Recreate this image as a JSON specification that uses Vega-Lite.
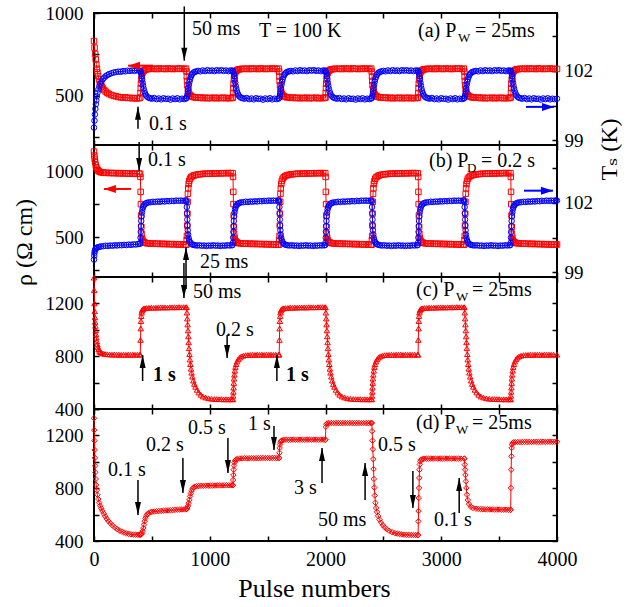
{
"$schema": "https://vega.github.io/schema/vega-lite/v6.json",
"padding": {"left": 11, "top": 3, "right": 5, "bottom": 5},
"background": "white",
"bounds": "flush",
"spacing": 0,
"config": {
 "font": "'Liberation Serif', 'DejaVu Serif', serif",
 "text": {"font": "'Liberation Serif', 'DejaVu Serif', serif"},
 "view": {"stroke": "black", "strokeWidth": 2},
 "axis": {"domain": false, "grid": false, "tickColor": "black", "tickWidth": 1.5, "tickSize": -5, "labelColor": "black", "labelFont": "'Liberation Serif', 'DejaVu Serif', serif", "labelFontSize": 19, "titleColor": "black", "titleFont": "'Liberation Serif', 'DejaVu Serif', serif", "titleFontWeight": "normal", "labelPadding": 16, "labelOverlap": false, "labelFlush": false}
},
"datasets": {
 "txt": [
  {"p":"a","x":847,"y":906,"t":"50 ms"},
  {"p":"a","x":1425,"y":888,"t":"T = 100 K"},
  {"p":"a","x":2799,"y":888,"t":"(a) P"},
  {"p":"a","x":3292,"y":888,"t":"= 25ms"},
  {"p":"a","x":475,"y":328,"t":"0.1 s"},
  {"p":"b","x":467,"y":1086,"t":"0.1 s"},
  {"p":"b","x":916,"y":314,"t":"25 ms"},
  {"p":"b","x":2894,"y":1079,"t":"(b) P"},
  {"p":"b","x":3344,"y":1079,"t":"= 0.2 s"},
  {"p":"c","x":855,"y":1283,"t":"50 ms"},
  {"p":"c","x":1054,"y":998,"t":"0.2 s"},
  {"p":"c","x":2782,"y":1302,"t":"(c) P"},
  {"p":"c","x":3266,"y":1302,"t":"= 25ms"},
  {"p":"d","x":121,"y":938,"t":"0.1 s"},
  {"p":"d","x":449,"y":1127,"t":"0.2 s"},
  {"p":"d","x":812,"y":1256,"t":"0.5 s"},
  {"p":"d","x":1330,"y":1286,"t":"1 s"},
  {"p":"d","x":1728,"y":801,"t":"3 s"},
  {"p":"d","x":1935,"y":559,"t":"50 ms"},
  {"p":"d","x":2454,"y":1127,"t":"0.5 s"},
  {"p":"d","x":2937,"y":559,"t":"0.1 s"},
  {"p":"d","x":2782,"y":1294,"t":"(d) P"},
  {"p":"d","x":3266,"y":1294,"t":"= 25ms"}
 ],
 "sub": [
  {"p":"a","x":3145,"y":888,"t":"W"},
  {"p":"b","x":3222,"y":1079,"t":"D"},
  {"p":"c","x":3127,"y":1302,"t":"W"},
  {"p":"d","x":3127,"y":1294,"t":"W"}
 ],
 "bold": [
  {"p":"c","x":510,"y":658,"t":"1 s"},
  {"p":"c","x":1659,"y":658,"t":"1 s"}
 ],
 "arr": [
  {"p":"a","x":780,"from":1040,"to":711},
  {"p":"a","x":380,"from":298,"to":432},
  {"p":"b","x":390,"from":1223,"to":1003},
  {"p":"b","x":795,"from":109,"to":427},
  {"p":"c","x":777,"from":1506,"to":1241},
  {"p":"c","x":1150,"from":961,"to":786},
  {"p":"c","x":420,"from":612,"to":809},
  {"p":"c","x":1580,"from":612,"to":809},
  {"p":"d","x":380,"from":862,"to":597},
  {"p":"d","x":768,"from":1029,"to":764},
  {"p":"d","x":1157,"from":1180,"to":915},
  {"p":"d","x":1555,"from":1271,"to":1089},
  {"p":"d","x":1970,"from":839,"to":1105},
  {"p":"d","x":2342,"from":711,"to":991},
  {"p":"d","x":2755,"from":930,"to":650},
  {"p":"d","x":3155,"from":612,"to":877}
 ],
 "carr": [
  {"p":"a","s":"rho","y":681,"from":510,"to":294},
  {"p":"a","s":"T","y":431,"from":3732,"to":3974},
  {"p":"b","s":"rho","y":867,"from":320,"to":86},
  {"p":"b","s":"T","y":854,"from":3715,"to":3965}
 ]
},
"vconcat": [
 {
  "width": 463, "height": 132,
  "resolve": {"scale": {"y": "independent"}, "axis": {"x": "independent", "y": "independent"}},
  "layer": [
   {"data": {"values": "x,y\n0,830\n5,790\n10,752\n15,718\n20,688\n25,662\n30,640\n36,618\n43,598\n50,582\n58,567\n67,555\n77,543\n88,533\n100,524\n115,516\n130,509\n150,503\n170,498\n190,495\n210,491\n230,489\n250,487\n270,489\n290,485\n310,486\n330,483\n350,485\n370,482\n390,484\n400,488\n402,515\n404,545\n406,572\n409,598\n413,620\n418,636\n425,646\n433,652\n442,656\n452,659\n465,660\n480,662\n500,661\n520,663\n540,660\n560,664\n580,661\n600,663\n620,660\n640,664\n660,662\n680,660\n700,663\n720,661\n740,664\n760,662\n780,660\n795,663\n800,645\n802,615\n804,588\n807,562\n811,540\n816,523\n822,511\n830,502\n840,496\n852,492\n866,489\n880,488\n900,486\n920,488\n940,484\n960,487\n980,483\n1000,486\n1020,484\n1040,487\n1060,483\n1080,486\n1100,484\n1120,487\n1140,483\n1160,485\n1180,484\n1195,486\n1200,488\n1202,515\n1204,545\n1206,572\n1209,598\n1213,620\n1218,636\n1225,646\n1233,652\n1242,656\n1252,659\n1265,660\n1280,662\n1300,661\n1320,663\n1340,660\n1360,664\n1380,661\n1400,663\n1420,660\n1440,664\n1460,662\n1480,660\n1500,663\n1520,661\n1540,664\n1560,662\n1580,660\n1595,663\n1600,645\n1602,615\n1604,588\n1607,562\n1611,540\n1616,523\n1622,511\n1630,502\n1640,496\n1652,492\n1666,489\n1680,488\n1700,486\n1720,488\n1740,484\n1760,487\n1780,483\n1800,486\n1820,484\n1840,487\n1860,483\n1880,486\n1900,484\n1920,487\n1940,483\n1960,485\n1980,484\n1995,486\n2000,488\n2002,515\n2004,545\n2006,572\n2009,598\n2013,620\n2018,636\n2025,646\n2033,652\n2042,656\n2052,659\n2065,660\n2080,662\n2100,661\n2120,663\n2140,660\n2160,664\n2180,661\n2200,663\n2220,660\n2240,664\n2260,662\n2280,660\n2300,663\n2320,661\n2340,664\n2360,662\n2380,660\n2395,663\n2400,645\n2402,615\n2404,588\n2407,562\n2411,540\n2416,523\n2422,511\n2430,502\n2440,496\n2452,492\n2466,489\n2480,488\n2500,486\n2520,488\n2540,484\n2560,487\n2580,483\n2600,486\n2620,484\n2640,487\n2660,483\n2680,486\n2700,484\n2720,487\n2740,483\n2760,485\n2780,484\n2795,486\n2800,488\n2802,515\n2804,545\n2806,572\n2809,598\n2813,620\n2818,636\n2825,646\n2833,652\n2842,656\n2852,659\n2865,660\n2880,662\n2900,661\n2920,663\n2940,660\n2960,664\n2980,661\n3000,663\n3020,660\n3040,664\n3060,662\n3080,660\n3100,663\n3120,661\n3140,664\n3160,662\n3180,660\n3195,663\n3200,645\n3202,615\n3204,588\n3207,562\n3211,540\n3216,523\n3222,511\n3230,502\n3240,496\n3252,492\n3266,489\n3280,488\n3300,486\n3320,488\n3340,484\n3360,487\n3380,483\n3400,486\n3420,484\n3440,487\n3460,483\n3480,486\n3500,484\n3520,487\n3540,483\n3560,485\n3580,484\n3595,486\n3600,488\n3602,515\n3604,545\n3606,572\n3609,598\n3613,620\n3618,636\n3625,646\n3633,652\n3642,656\n3652,659\n3665,660\n3680,662\n3700,661\n3720,663\n3740,660\n3760,664\n3780,661\n3800,663\n3820,660\n3840,664\n3860,662\n3880,660\n3900,663\n3920,661\n3940,664\n3960,662\n3980,660\n4000,661", "format": {"type": "csv", "parse": {"x": "number", "y": "number"}}},
    "mark": {"type": "line", "color": "red", "strokeWidth": 1, "point": {"shape": "square", "filled": false, "size": 30, "strokeWidth": 1, "color": "red", "opacity": 1}},
    "encoding": {
     "x": {"field": "x", "type": "quantitative", "scale": {"domain": [0, 4000], "nice": false}, "axis": {"orient": "bottom", "values": [0,500,1000,1500,2000,2500,3000,3500,4000], "labels": false, "title": null}},
     "y": {"field": "y", "type": "quantitative", "scale": {"domain": [200, 1000], "nice": false, "zero": false}, "axis": {"orient": "left", "values": [250,500,750,1000], "format": "d", "labelExpr": "datum.value==500||datum.value==1000 ? datum.label : ''", "title": null}}
    }},
   {"data": {"values": "x,y\n0,99.55\n4,99.85\n8,100.12\n12,100.36\n16,100.56\n20,100.73\n25,100.9\n31,101.06\n38,101.2\n46,101.33\n55,101.45\n65,101.55\n76,101.64\n88,101.71\n100,101.77\n115,101.82\n130,101.86\n150,101.9\n170,101.93\n190,101.95\n210,101.97\n230,101.96\n250,101.99\n270,101.98\n290,102.01\n310,102\n330,102.02\n350,102\n370,102.03\n390,102.01\n400,102\n404,101.96\n408,101.88\n412,101.77\n416,101.64\n420,101.5\n424,101.37\n429,101.24\n435,101.12\n442,101.02\n450,100.94\n460,100.88\n472,100.84\n485,100.82\n500,100.8\n520,100.83\n540,100.78\n560,100.81\n580,100.77\n600,100.82\n620,100.79\n640,100.8\n660,100.76\n680,100.81\n700,100.78\n720,100.82\n740,100.77\n760,100.8\n780,100.78\n795,100.81\n800,100.83\n804,100.9\n808,101\n812,101.12\n816,101.26\n820,101.4\n825,101.53\n830,101.64\n836,101.74\n843,101.82\n851,101.88\n860,101.93\n872,101.96\n885,101.98\n900,102\n920,101.98\n940,102.02\n960,101.99\n980,102.03\n1000,102\n1020,102.02\n1040,101.99\n1060,102.03\n1080,102.01\n1100,102.03\n1120,102\n1140,102.02\n1160,101.99\n1180,102.02\n1195,102.01\n1200,102\n1204,101.96\n1208,101.88\n1212,101.77\n1216,101.64\n1220,101.5\n1224,101.37\n1229,101.24\n1235,101.12\n1242,101.02\n1250,100.94\n1260,100.88\n1272,100.84\n1285,100.82\n1300,100.8\n1320,100.83\n1340,100.78\n1360,100.81\n1380,100.77\n1400,100.82\n1420,100.79\n1440,100.8\n1460,100.76\n1480,100.81\n1500,100.78\n1520,100.82\n1540,100.77\n1560,100.8\n1580,100.78\n1595,100.81\n1600,100.83\n1604,100.9\n1608,101\n1612,101.12\n1616,101.26\n1620,101.4\n1625,101.53\n1630,101.64\n1636,101.74\n1643,101.82\n1651,101.88\n1660,101.93\n1672,101.96\n1685,101.98\n1700,102\n1720,101.98\n1740,102.02\n1760,101.99\n1780,102.03\n1800,102\n1820,102.02\n1840,101.99\n1860,102.03\n1880,102.01\n1900,102.03\n1920,102\n1940,102.02\n1960,101.99\n1980,102.02\n1995,102.01\n2000,102\n2004,101.96\n2008,101.88\n2012,101.77\n2016,101.64\n2020,101.5\n2024,101.37\n2029,101.24\n2035,101.12\n2042,101.02\n2050,100.94\n2060,100.88\n2072,100.84\n2085,100.82\n2100,100.8\n2120,100.83\n2140,100.78\n2160,100.81\n2180,100.77\n2200,100.82\n2220,100.79\n2240,100.8\n2260,100.76\n2280,100.81\n2300,100.78\n2320,100.82\n2340,100.77\n2360,100.8\n2380,100.78\n2395,100.81\n2400,100.83\n2404,100.9\n2408,101\n2412,101.12\n2416,101.26\n2420,101.4\n2425,101.53\n2430,101.64\n2436,101.74\n2443,101.82\n2451,101.88\n2460,101.93\n2472,101.96\n2485,101.98\n2500,102\n2520,101.98\n2540,102.02\n2560,101.99\n2580,102.03\n2600,102\n2620,102.02\n2640,101.99\n2660,102.03\n2680,102.01\n2700,102.03\n2720,102\n2740,102.02\n2760,101.99\n2780,102.02\n2795,102.01\n2800,102\n2804,101.96\n2808,101.88\n2812,101.77\n2816,101.64\n2820,101.5\n2824,101.37\n2829,101.24\n2835,101.12\n2842,101.02\n2850,100.94\n2860,100.88\n2872,100.84\n2885,100.82\n2900,100.8\n2920,100.83\n2940,100.78\n2960,100.81\n2980,100.77\n3000,100.82\n3020,100.79\n3040,100.8\n3060,100.76\n3080,100.81\n3100,100.78\n3120,100.82\n3140,100.77\n3160,100.8\n3180,100.78\n3195,100.81\n3200,100.83\n3204,100.9\n3208,101\n3212,101.12\n3216,101.26\n3220,101.4\n3225,101.53\n3230,101.64\n3236,101.74\n3243,101.82\n3251,101.88\n3260,101.93\n3272,101.96\n3285,101.98\n3300,102\n3320,101.98\n3340,102.02\n3360,101.99\n3380,102.03\n3400,102\n3420,102.02\n3440,101.99\n3460,102.03\n3480,102.01\n3500,102.03\n3520,102\n3540,102.02\n3560,101.99\n3580,102.02\n3595,102.01\n3600,102\n3604,101.96\n3608,101.88\n3612,101.77\n3616,101.64\n3620,101.5\n3624,101.37\n3629,101.24\n3635,101.12\n3642,101.02\n3650,100.94\n3660,100.88\n3672,100.84\n3685,100.82\n3700,100.8\n3720,100.83\n3740,100.78\n3760,100.81\n3780,100.77\n3800,100.82\n3820,100.79\n3840,100.8\n3860,100.76\n3880,100.81\n3900,100.78\n3920,100.82\n3940,100.77\n3960,100.8\n3980,100.78\n4000,100.8", "format": {"type": "csv", "parse": {"x": "number", "y": "number"}}},
    "mark": {"type": "line", "color": "blue", "strokeWidth": 1, "point": {"shape": "circle", "filled": false, "size": 30, "strokeWidth": 1, "color": "blue", "opacity": 1}},
    "encoding": {
     "x": {"field": "x", "type": "quantitative", "scale": {"domain": [0, 4000], "nice": false}, "axis": {"orient": "top", "values": [0,500,1000,1500,2000,2500,3000,3500,4000], "labels": false, "title": null}},
     "y": {"field": "y", "type": "quantitative", "scale": {"domain": [98.8, 104.5], "nice": false, "zero": false}, "axis": {"orient": "right", "values": [99,100.5,102,103.5], "labelExpr": "datum.value==99||datum.value==102 ? datum.label : ''", "labelPadding": 12, "title": null}}
    }},
   {"data": {"name": "txt"}, "transform": [{"filter": "datum.p=='a'"}],
    "mark": {"type": "text", "align": "left", "baseline": "middle", "fontSize": 20, "color": "black"},
    "encoding": {"x": {"field": "x", "type": "quantitative", "scale": {"domain": [0, 4000], "nice": false}, "axis": null}, "y": {"field": "y", "type": "quantitative", "scale": {"domain": [200, 1000], "nice": false, "zero": false}, "axis": null}, "text": {"field": "t"}}},
   {"data": {"name": "sub"}, "transform": [{"filter": "datum.p=='a'"}],
    "mark": {"type": "text", "align": "left", "baseline": "middle", "fontSize": 13, "dy": 7, "color": "black"},
    "encoding": {"x": {"field": "x", "type": "quantitative", "scale": {"domain": [0, 4000], "nice": false}, "axis": null}, "y": {"field": "y", "type": "quantitative", "scale": {"domain": [200, 1000], "nice": false, "zero": false}, "axis": null}, "text": {"field": "t"}}},
   {"data": {"name": "arr"}, "transform": [{"filter": "datum.p=='a'"}],
    "mark": {"type": "rule", "color": "black", "strokeWidth": 1.5},
    "encoding": {"x": {"field": "x", "type": "quantitative", "scale": {"domain": [0, 4000], "nice": false}, "axis": null}, "y": {"field": "from", "type": "quantitative", "scale": {"domain": [200, 1000], "nice": false, "zero": false}, "axis": null}, "y2": {"field": "to"}}},
   {"data": {"name": "arr"}, "transform": [{"filter": "datum.p=='a'"}],
    "mark": {"type": "point", "filled": true, "color": "black", "size": 400, "opacity": 1},
    "encoding": {"x": {"field": "x", "type": "quantitative", "scale": {"domain": [0, 4000], "nice": false}, "axis": null}, "y": {"field": "to", "type": "quantitative", "scale": {"domain": [200, 1000], "nice": false, "zero": false}, "axis": null},
     "shape": {"condition": {"test": "datum.to < datum.from", "value": "M0,0L-0.3,-1.3L0.3,-1.3Z"}, "value": "M0,0L-0.3,1.3L0.3,1.3Z"}}},
   {"data": {"name": "carr"}, "transform": [{"filter": "datum.p=='a'"}],
    "mark": {"type": "rule", "strokeWidth": 2},
    "encoding": {"x": {"field": "from", "type": "quantitative", "scale": {"domain": [0, 4000], "nice": false}, "axis": null}, "x2": {"field": "to"}, "y": {"field": "y", "type": "quantitative", "scale": {"domain": [200, 1000], "nice": false, "zero": false}, "axis": null},
     "color": {"field": "s", "type": "nominal", "scale": {"domain": ["rho", "T"], "range": ["red", "blue"]}, "legend": null}}},
   {"data": {"name": "carr"}, "transform": [{"filter": "datum.p=='a'"}],
    "mark": {"type": "point", "filled": true, "size": 400, "opacity": 1},
    "encoding": {"x": {"field": "to", "type": "quantitative", "scale": {"domain": [0, 4000], "nice": false}, "axis": null}, "y": {"field": "y", "type": "quantitative", "scale": {"domain": [200, 1000], "nice": false, "zero": false}, "axis": null},
     "color": {"field": "s", "type": "nominal", "scale": {"domain": ["rho", "T"], "range": ["red", "blue"]}, "legend": null},
     "shape": {"condition": {"test": "datum.to < datum.from", "value": "M0,0L1.2,-0.4L1.2,0.4Z"}, "value": "M0,0L-1.2,-0.4L-1.2,0.4Z"}}}
  ]
 },
 {
  "width": 463, "height": 132,
  "resolve": {"scale": {"y": "independent"}, "axis": {"x": "independent", "y": "independent"}},
  "layer": [
   {"data": {"values": "x,y\n0,1150\n3,1120\n6,1095\n10,1070\n15,1048\n20,1032\n26,1019\n33,1009\n41,1002\n50,997\n60,993\n75,991\n90,989\n110,990\n130,987\n150,989\n170,986\n190,988\n210,985\n230,987\n250,984\n270,986\n290,983\n310,985\n330,982\n350,984\n370,981\n390,983\n398,982\n401,958\n403,845\n405,752\n407,665\n409,580\n411,528\n414,497\n418,480\n424,470\n432,463\n442,459\n455,456\n470,455\n490,452\n510,454\n530,451\n550,453\n570,450\n590,452\n610,449\n630,451\n650,448\n670,450\n690,447\n710,449\n730,446\n750,448\n770,445\n790,447\n798,444\n801,480\n803,512\n805,590\n807,680\n809,770\n811,830\n814,872\n818,905\n823,928\n830,945\n840,957\n852,965\n866,970\n882,974\n900,977\n920,979\n940,981\n960,983\n980,982\n1000,984\n1020,983\n1040,985\n1060,984\n1080,986\n1100,985\n1120,987\n1140,986\n1160,988\n1180,986\n1198,987\n1201,958\n1203,845\n1205,752\n1207,665\n1209,580\n1211,528\n1214,497\n1218,480\n1224,470\n1232,463\n1242,459\n1255,456\n1270,455\n1290,452\n1310,454\n1330,451\n1350,453\n1370,450\n1390,452\n1410,449\n1430,451\n1450,448\n1470,450\n1490,447\n1510,449\n1530,446\n1550,448\n1570,445\n1590,447\n1598,444\n1601,480\n1603,512\n1605,590\n1607,680\n1609,770\n1611,830\n1614,872\n1618,905\n1623,928\n1630,945\n1640,957\n1652,965\n1666,970\n1682,974\n1700,977\n1720,979\n1740,981\n1760,983\n1780,982\n1800,984\n1820,983\n1840,985\n1860,984\n1880,986\n1900,985\n1920,987\n1940,986\n1960,988\n1980,986\n1998,987\n2001,958\n2003,845\n2005,752\n2007,665\n2009,580\n2011,528\n2014,497\n2018,480\n2024,470\n2032,463\n2042,459\n2055,456\n2070,455\n2090,452\n2110,454\n2130,451\n2150,453\n2170,450\n2190,452\n2210,449\n2230,451\n2250,448\n2270,450\n2290,447\n2310,449\n2330,446\n2350,448\n2370,445\n2390,447\n2398,444\n2401,480\n2403,512\n2405,590\n2407,680\n2409,770\n2411,830\n2414,872\n2418,905\n2423,928\n2430,945\n2440,957\n2452,965\n2466,970\n2482,974\n2500,977\n2520,979\n2540,981\n2560,983\n2580,982\n2600,984\n2620,983\n2640,985\n2660,984\n2680,986\n2700,985\n2720,987\n2740,986\n2760,988\n2780,986\n2798,987\n2801,958\n2803,845\n2805,752\n2807,665\n2809,580\n2811,528\n2814,497\n2818,480\n2824,470\n2832,463\n2842,459\n2855,456\n2870,455\n2890,452\n2910,454\n2930,451\n2950,453\n2970,450\n2990,452\n3010,449\n3030,451\n3050,448\n3070,450\n3090,447\n3110,449\n3130,446\n3150,448\n3170,445\n3190,447\n3198,444\n3201,480\n3203,512\n3205,590\n3207,680\n3209,770\n3211,830\n3214,872\n3218,905\n3223,928\n3230,945\n3240,957\n3252,965\n3266,970\n3282,974\n3300,977\n3320,979\n3340,981\n3360,983\n3380,982\n3400,984\n3420,983\n3440,985\n3460,984\n3480,986\n3500,985\n3520,987\n3540,986\n3560,988\n3580,986\n3598,987\n3601,958\n3603,845\n3605,752\n3607,665\n3609,580\n3611,528\n3614,497\n3618,480\n3624,470\n3632,463\n3642,459\n3655,456\n3670,455\n3690,452\n3710,454\n3730,451\n3750,453\n3770,450\n3790,452\n3810,449\n3830,451\n3850,448\n3870,450\n3890,447\n3910,449\n3930,446\n3950,448\n3970,445\n3990,447\n4000,446", "format": {"type": "csv", "parse": {"x": "number", "y": "number"}}},
    "mark": {"type": "line", "color": "red", "strokeWidth": 1, "point": {"shape": "square", "filled": false, "size": 30, "strokeWidth": 1, "color": "red", "opacity": 1}},
    "encoding": {
     "x": {"field": "x", "type": "quantitative", "scale": {"domain": [0, 4000], "nice": false}, "axis": {"orient": "bottom", "values": [0,500,1000,1500,2000,2500,3000,3500,4000], "labels": false, "title": null}},
     "y": {"field": "y", "type": "quantitative", "scale": {"domain": [200, 1200], "nice": false, "zero": false}, "axis": {"orient": "left", "values": [250,500,750,1000], "format": "d", "labelExpr": "datum.value==500||datum.value==1000 ? datum.label : ''", "title": "ρ (Ω cm)", "titleFontSize": 24, "titleAngle": 270, "titleX": -70, "titleY": 97, "titleAlign": "center", "titleBaseline": "middle"}}
    }},
   {"data": {"values": "x,y\n0,99.55\n2,99.72\n4,99.84\n7,99.93\n11,99.99\n16,100.03\n23,100.06\n32,100.08\n45,100.1\n60,100.12\n80,100.13\n100,100.15\n120,100.14\n140,100.16\n160,100.15\n180,100.17\n200,100.16\n220,100.18\n240,100.17\n260,100.19\n280,100.18\n300,100.2\n320,100.19\n340,100.21\n360,100.2\n380,100.22\n396,100.23\n400,100.28\n402,100.5\n404,100.75\n406,101\n408,101.22\n411,101.42\n414,101.58\n418,101.71\n423,101.81\n429,101.88\n436,101.93\n445,101.97\n456,102\n470,102.02\n490,102.03\n510,102.05\n530,102.04\n550,102.06\n570,102.05\n590,102.07\n610,102.06\n630,102.08\n650,102.07\n670,102.09\n690,102.08\n710,102.1\n730,102.09\n750,102.1\n770,102.09\n790,102.11\n797,102.1\n800,102.05\n802,101.82\n804,101.55\n806,101.28\n808,101.03\n810,100.82\n813,100.64\n817,100.5\n822,100.39\n828,100.31\n836,100.25\n846,100.21\n858,100.19\n872,100.17\n890,100.16\n910,100.17\n930,100.15\n950,100.16\n970,100.14\n990,100.16\n1010,100.15\n1030,100.17\n1050,100.15\n1070,100.16\n1090,100.14\n1110,100.16\n1130,100.15\n1150,100.17\n1170,100.16\n1190,100.17\n1197,100.18\n1200,100.28\n1202,100.5\n1204,100.75\n1206,101\n1208,101.22\n1211,101.42\n1214,101.58\n1218,101.71\n1223,101.81\n1229,101.88\n1236,101.93\n1245,101.97\n1256,102\n1270,102.02\n1290,102.03\n1310,102.05\n1330,102.04\n1350,102.06\n1370,102.05\n1390,102.07\n1410,102.06\n1430,102.08\n1450,102.07\n1470,102.09\n1490,102.08\n1510,102.1\n1530,102.09\n1550,102.1\n1570,102.09\n1590,102.11\n1597,102.1\n1600,102.05\n1602,101.82\n1604,101.55\n1606,101.28\n1608,101.03\n1610,100.82\n1613,100.64\n1617,100.5\n1622,100.39\n1628,100.31\n1636,100.25\n1646,100.21\n1658,100.19\n1672,100.17\n1690,100.16\n1710,100.17\n1730,100.15\n1750,100.16\n1770,100.14\n1790,100.16\n1810,100.15\n1830,100.17\n1850,100.15\n1870,100.16\n1890,100.14\n1910,100.16\n1930,100.15\n1950,100.17\n1970,100.16\n1990,100.17\n1997,100.18\n2000,100.28\n2002,100.5\n2004,100.75\n2006,101\n2008,101.22\n2011,101.42\n2014,101.58\n2018,101.71\n2023,101.81\n2029,101.88\n2036,101.93\n2045,101.97\n2056,102\n2070,102.02\n2090,102.03\n2110,102.05\n2130,102.04\n2150,102.06\n2170,102.05\n2190,102.07\n2210,102.06\n2230,102.08\n2250,102.07\n2270,102.09\n2290,102.08\n2310,102.1\n2330,102.09\n2350,102.1\n2370,102.09\n2390,102.11\n2397,102.1\n2400,102.05\n2402,101.82\n2404,101.55\n2406,101.28\n2408,101.03\n2410,100.82\n2413,100.64\n2417,100.5\n2422,100.39\n2428,100.31\n2436,100.25\n2446,100.21\n2458,100.19\n2472,100.17\n2490,100.16\n2510,100.17\n2530,100.15\n2550,100.16\n2570,100.14\n2590,100.16\n2610,100.15\n2630,100.17\n2650,100.15\n2670,100.16\n2690,100.14\n2710,100.16\n2730,100.15\n2750,100.17\n2770,100.16\n2790,100.17\n2797,100.18\n2800,100.28\n2802,100.5\n2804,100.75\n2806,101\n2808,101.22\n2811,101.42\n2814,101.58\n2818,101.71\n2823,101.81\n2829,101.88\n2836,101.93\n2845,101.97\n2856,102\n2870,102.02\n2890,102.03\n2910,102.05\n2930,102.04\n2950,102.06\n2970,102.05\n2990,102.07\n3010,102.06\n3030,102.08\n3050,102.07\n3070,102.09\n3090,102.08\n3110,102.1\n3130,102.09\n3150,102.1\n3170,102.09\n3190,102.11\n3197,102.1\n3200,102.05\n3202,101.82\n3204,101.55\n3206,101.28\n3208,101.03\n3210,100.82\n3213,100.64\n3217,100.5\n3222,100.39\n3228,100.31\n3236,100.25\n3246,100.21\n3258,100.19\n3272,100.17\n3290,100.16\n3310,100.17\n3330,100.15\n3350,100.16\n3370,100.14\n3390,100.16\n3410,100.15\n3430,100.17\n3450,100.15\n3470,100.16\n3490,100.14\n3510,100.16\n3530,100.15\n3550,100.17\n3570,100.16\n3590,100.17\n3597,100.18\n3600,100.28\n3602,100.5\n3604,100.75\n3606,101\n3608,101.22\n3611,101.42\n3614,101.58\n3618,101.71\n3623,101.81\n3629,101.88\n3636,101.93\n3645,101.97\n3656,102\n3670,102.02\n3690,102.03\n3710,102.05\n3730,102.04\n3750,102.06\n3770,102.05\n3790,102.07\n3810,102.06\n3830,102.08\n3850,102.07\n3870,102.09\n3890,102.08\n3910,102.1\n3930,102.09\n3950,102.1\n3970,102.09\n3990,102.11\n4000,102.1", "format": {"type": "csv", "parse": {"x": "number", "y": "number"}}},
    "mark": {"type": "line", "color": "blue", "strokeWidth": 1, "point": {"shape": "circle", "filled": false, "size": 30, "strokeWidth": 1, "color": "blue", "opacity": 1}},
    "encoding": {
     "x": {"field": "x", "type": "quantitative", "scale": {"domain": [0, 4000], "nice": false}, "axis": {"orient": "top", "values": [0,500,1000,1500,2000,2500,3000,3500,4000], "labels": false, "title": null}},
     "y": {"field": "y", "type": "quantitative", "scale": {"domain": [98.8, 104.5], "nice": false, "zero": false}, "axis": {"orient": "right", "values": [99,100.5,102,103.5], "labelExpr": "datum.value==99||datum.value==102 ? datum.label : ''", "labelPadding": 12, "title": "Tₛ (K)", "titleFontSize": 24, "titleAngle": 270, "titleX": 52, "titleY": 4, "titleAlign": "center", "titleBaseline": "middle"}}
    }},
   {"data": {"name": "txt"}, "transform": [{"filter": "datum.p=='b'"}],
    "mark": {"type": "text", "align": "left", "baseline": "middle", "fontSize": 20, "color": "black"},
    "encoding": {"x": {"field": "x", "type": "quantitative", "scale": {"domain": [0, 4000], "nice": false}, "axis": null}, "y": {"field": "y", "type": "quantitative", "scale": {"domain": [200, 1200], "nice": false, "zero": false}, "axis": null}, "text": {"field": "t"}}},
   {"data": {"name": "sub"}, "transform": [{"filter": "datum.p=='b'"}],
    "mark": {"type": "text", "align": "left", "baseline": "middle", "fontSize": 13, "dy": 7, "color": "black"},
    "encoding": {"x": {"field": "x", "type": "quantitative", "scale": {"domain": [0, 4000], "nice": false}, "axis": null}, "y": {"field": "y", "type": "quantitative", "scale": {"domain": [200, 1200], "nice": false, "zero": false}, "axis": null}, "text": {"field": "t"}}},
   {"data": {"name": "arr"}, "transform": [{"filter": "datum.p=='b'"}],
    "mark": {"type": "rule", "color": "black", "strokeWidth": 1.5},
    "encoding": {"x": {"field": "x", "type": "quantitative", "scale": {"domain": [0, 4000], "nice": false}, "axis": null}, "y": {"field": "from", "type": "quantitative", "scale": {"domain": [200, 1200], "nice": false, "zero": false}, "axis": null}, "y2": {"field": "to"}}},
   {"data": {"name": "arr"}, "transform": [{"filter": "datum.p=='b'"}],
    "mark": {"type": "point", "filled": true, "color": "black", "size": 400, "opacity": 1},
    "encoding": {"x": {"field": "x", "type": "quantitative", "scale": {"domain": [0, 4000], "nice": false}, "axis": null}, "y": {"field": "to", "type": "quantitative", "scale": {"domain": [200, 1200], "nice": false, "zero": false}, "axis": null},
     "shape": {"condition": {"test": "datum.to < datum.from", "value": "M0,0L-0.3,-1.3L0.3,-1.3Z"}, "value": "M0,0L-0.3,1.3L0.3,1.3Z"}}},
   {"data": {"name": "carr"}, "transform": [{"filter": "datum.p=='b'"}],
    "mark": {"type": "rule", "strokeWidth": 2},
    "encoding": {"x": {"field": "from", "type": "quantitative", "scale": {"domain": [0, 4000], "nice": false}, "axis": null}, "x2": {"field": "to"}, "y": {"field": "y", "type": "quantitative", "scale": {"domain": [200, 1200], "nice": false, "zero": false}, "axis": null},
     "color": {"field": "s", "type": "nominal", "scale": {"domain": ["rho", "T"], "range": ["red", "blue"]}, "legend": null}}},
   {"data": {"name": "carr"}, "transform": [{"filter": "datum.p=='b'"}],
    "mark": {"type": "point", "filled": true, "size": 400, "opacity": 1},
    "encoding": {"x": {"field": "to", "type": "quantitative", "scale": {"domain": [0, 4000], "nice": false}, "axis": null}, "y": {"field": "y", "type": "quantitative", "scale": {"domain": [200, 1200], "nice": false, "zero": false}, "axis": null},
     "color": {"field": "s", "type": "nominal", "scale": {"domain": ["rho", "T"], "range": ["red", "blue"]}, "legend": null},
     "shape": {"condition": {"test": "datum.to < datum.from", "value": "M0,0L1.2,-0.4L1.2,0.4Z"}, "value": "M0,0L-1.2,-0.4L-1.2,0.4Z"}}}
  ]
 },
 {
  "width": 463, "height": 132,
  "resolve": {"scale": {"y": "independent"}, "axis": {"x": "independent", "y": "independent"}},
  "layer": [
   {"data": {"values": "x,y\n0,1395\n2,1300\n4,1200\n6,1140\n8,1095\n10,1060\n12,1030\n15,995\n18,965\n21,940\n25,912\n29,890\n34,870\n40,853\n47,840\n55,831\n65,825\n78,820\n95,817\n115,815\n135,813\n155,812\n175,813\n195,811\n215,812\n235,810\n255,812\n275,811\n295,812\n315,810\n335,812\n355,811\n375,812\n395,811\n400,812\n402,923\n404,1010\n406,1066\n408,1104\n411,1130\n415,1145\n420,1155\n428,1160\n440,1163\n455,1165\n475,1166\n495,1168\n515,1167\n535,1169\n555,1168\n575,1170\n595,1169\n615,1170\n635,1169\n655,1171\n675,1170\n695,1171\n715,1170\n735,1172\n755,1171\n775,1172\n795,1171\n800,1171\n803,1130\n806,1085\n809,1040\n812,995\n815,950\n818,905\n821,860\n825,815\n829,775\n833,740\n838,705\n843,675\n850,645\n858,615\n867,590\n877,568\n890,545\n905,525\n922,508\n942,495\n965,487\n990,481\n1015,478\n1040,476\n1060,475\n1080,474\n1100,475\n1120,473\n1140,474\n1160,473\n1180,474\n1195,473\n1200,474\n1202,500\n1204,530\n1206,562\n1208,597\n1210,630\n1213,660\n1217,690\n1222,718\n1228,740\n1236,760\n1246,776\n1258,789\n1272,798\n1290,804\n1310,808\n1330,809\n1350,810\n1370,811\n1390,810\n1410,812\n1430,811\n1450,812\n1470,810\n1490,812\n1510,811\n1530,812\n1550,811\n1570,812\n1595,811\n1600,812\n1602,923\n1604,1010\n1606,1066\n1608,1104\n1611,1130\n1615,1145\n1620,1155\n1628,1160\n1640,1163\n1655,1165\n1675,1166\n1695,1168\n1715,1167\n1735,1169\n1755,1168\n1775,1170\n1795,1169\n1815,1170\n1835,1169\n1855,1171\n1875,1170\n1895,1171\n1915,1170\n1935,1172\n1955,1171\n1975,1172\n1995,1171\n2000,1171\n2003,1130\n2006,1085\n2009,1040\n2012,995\n2015,950\n2018,905\n2021,860\n2025,815\n2029,775\n2033,740\n2038,705\n2043,675\n2050,645\n2058,615\n2067,590\n2077,568\n2090,545\n2105,525\n2122,508\n2142,495\n2165,487\n2190,481\n2215,478\n2240,476\n2260,475\n2280,474\n2300,475\n2320,473\n2340,474\n2360,473\n2380,474\n2395,473\n2400,474\n2402,500\n2404,530\n2406,562\n2408,597\n2410,630\n2413,660\n2417,690\n2422,718\n2428,740\n2436,760\n2446,776\n2458,789\n2472,798\n2490,804\n2510,808\n2530,809\n2550,810\n2570,811\n2590,810\n2610,812\n2630,811\n2650,812\n2670,810\n2690,812\n2710,811\n2730,812\n2750,811\n2770,812\n2795,811\n2800,812\n2802,923\n2804,1010\n2806,1066\n2808,1104\n2811,1130\n2815,1145\n2820,1155\n2828,1160\n2840,1163\n2855,1165\n2875,1166\n2895,1168\n2915,1167\n2935,1169\n2955,1168\n2975,1170\n2995,1169\n3015,1170\n3035,1169\n3055,1171\n3075,1170\n3095,1171\n3115,1170\n3135,1172\n3155,1171\n3175,1172\n3195,1171\n3200,1171\n3203,1130\n3206,1085\n3209,1040\n3212,995\n3215,950\n3218,905\n3221,860\n3225,815\n3229,775\n3233,740\n3238,705\n3243,675\n3250,645\n3258,615\n3267,590\n3277,568\n3290,545\n3305,525\n3322,508\n3342,495\n3365,487\n3390,481\n3415,478\n3440,476\n3460,475\n3480,474\n3500,475\n3520,473\n3540,474\n3560,473\n3580,474\n3595,473\n3600,474\n3602,500\n3604,530\n3606,562\n3608,597\n3610,630\n3613,660\n3617,690\n3622,718\n3628,740\n3636,760\n3646,776\n3658,789\n3672,798\n3690,804\n3710,808\n3730,809\n3750,810\n3770,811\n3790,810\n3810,812\n3830,811\n3850,812\n3870,810\n3890,812\n3910,811\n3930,812\n3950,811\n3970,812\n4000,812", "format": {"type": "csv", "parse": {"x": "number", "y": "number"}}},
    "mark": {"type": "line", "color": "red", "strokeWidth": 1, "point": {"shape": "triangle-up", "filled": false, "size": 30, "strokeWidth": 1, "color": "red", "opacity": 1}},
    "encoding": {
     "x": {"field": "x", "type": "quantitative", "scale": {"domain": [0, 4000], "nice": false}, "axis": {"orient": "bottom", "values": [0,500,1000,1500,2000,2500,3000,3500,4000], "labels": false, "title": null}},
     "y": {"field": "y", "type": "quantitative", "scale": {"domain": [400, 1400], "nice": false, "zero": false}, "axis": {"orient": "left", "values": [400,600,800,1000,1200,1400], "format": "d", "labelExpr": "datum.value % 400 == 0 ? datum.label : ''", "title": null}}
    }},
   {"data": {"name": "txt"}, "transform": [{"filter": "datum.p=='c'"}],
    "mark": {"type": "text", "align": "left", "baseline": "middle", "fontSize": 20, "color": "black"},
    "encoding": {"x": {"field": "x", "type": "quantitative", "scale": {"domain": [0, 4000], "nice": false}, "axis": {"orient": "top", "values": [0,500,1000,1500,2000,2500,3000,3500,4000], "labels": false, "title": null}}, "y": {"field": "y", "type": "quantitative", "scale": {"domain": [400, 1400], "nice": false, "zero": false}, "axis": {"orient": "right", "values": [400,600,800,1000,1200,1400], "labels": false, "title": null}}, "text": {"field": "t"}}},
   {"data": {"name": "sub"}, "transform": [{"filter": "datum.p=='c'"}],
    "mark": {"type": "text", "align": "left", "baseline": "middle", "fontSize": 13, "dy": 7, "color": "black"},
    "encoding": {"x": {"field": "x", "type": "quantitative", "scale": {"domain": [0, 4000], "nice": false}, "axis": null}, "y": {"field": "y", "type": "quantitative", "scale": {"domain": [400, 1400], "nice": false, "zero": false}, "axis": null}, "text": {"field": "t"}}},
   {"data": {"name": "bold"}, "transform": [{"filter": "datum.p=='c'"}],
    "mark": {"type": "text", "align": "left", "baseline": "middle", "fontSize": 20, "fontWeight": "bold", "color": "black"},
    "encoding": {"x": {"field": "x", "type": "quantitative", "scale": {"domain": [0, 4000], "nice": false}, "axis": null}, "y": {"field": "y", "type": "quantitative", "scale": {"domain": [400, 1400], "nice": false, "zero": false}, "axis": null}, "text": {"field": "t"}}},
   {"data": {"name": "arr"}, "transform": [{"filter": "datum.p=='c'"}],
    "mark": {"type": "rule", "color": "black", "strokeWidth": 1.5},
    "encoding": {"x": {"field": "x", "type": "quantitative", "scale": {"domain": [0, 4000], "nice": false}, "axis": null}, "y": {"field": "from", "type": "quantitative", "scale": {"domain": [400, 1400], "nice": false, "zero": false}, "axis": null}, "y2": {"field": "to"}}},
   {"data": {"name": "arr"}, "transform": [{"filter": "datum.p=='c'"}],
    "mark": {"type": "point", "filled": true, "color": "black", "size": 400, "opacity": 1},
    "encoding": {"x": {"field": "x", "type": "quantitative", "scale": {"domain": [0, 4000], "nice": false}, "axis": null}, "y": {"field": "to", "type": "quantitative", "scale": {"domain": [400, 1400], "nice": false, "zero": false}, "axis": null},
     "shape": {"condition": {"test": "datum.to < datum.from", "value": "M0,0L-0.3,-1.3L0.3,-1.3Z"}, "value": "M0,0L-0.3,1.3L0.3,1.3Z"}}}
  ]
 },
 {
  "width": 463, "height": 132,
  "resolve": {"scale": {"y": "independent"}, "axis": {"x": "independent", "y": "independent"}},
  "layer": [
   {"data": {"values": "x,y\n0,1330\n2,1240\n4,1160\n6,1090\n8,1030\n10,970\n12,920\n15,870\n19,825\n24,785\n30,750\n37,718\n45,690\n53,668\n62,648\n72,628\n84,608\n97,588\n110,568\n125,550\n142,533\n160,518\n180,503\n200,490\n220,479\n240,471\n260,464\n280,458\n300,454\n320,451\n340,449\n360,448\n380,447\n395,447\n400,447\n408,450\n414,458\n420,475\n426,498\n432,524\n438,550\n444,572\n451,590\n460,603\n470,611\n485,617\n500,621\n520,623\n540,625\n560,627\n580,628\n600,630\n620,631\n640,632\n660,633\n680,634\n700,636\n720,637\n740,638\n760,639\n780,640\n797,641\n800,642\n806,650\n812,665\n818,687\n824,712\n830,738\n836,760\n843,780\n851,795\n860,805\n872,811\n886,815\n905,817\n925,818\n945,818\n965,819\n985,819\n1005,820\n1025,820\n1045,820\n1065,821\n1085,821\n1105,821\n1125,822\n1145,822\n1165,822\n1185,823\n1198,822\n1200,822\n1202,862\n1204,900\n1207,940\n1210,972\n1214,995\n1220,1010\n1228,1018\n1240,1022\n1260,1025\n1280,1026\n1300,1027\n1320,1026\n1340,1027\n1360,1028\n1380,1027\n1400,1028\n1420,1027\n1440,1028\n1460,1029\n1480,1028\n1500,1029\n1520,1028\n1540,1029\n1560,1029\n1580,1028\n1598,1029\n1600,1029\n1602,1068\n1604,1105\n1607,1130\n1611,1148\n1617,1158\n1626,1163\n1640,1166\n1660,1167\n1680,1166\n1700,1167\n1720,1168\n1740,1167\n1760,1168\n1780,1167\n1800,1168\n1820,1167\n1840,1168\n1860,1168\n1880,1167\n1900,1168\n1920,1168\n1940,1167\n1960,1168\n1980,1168\n1998,1167\n2000,1167\n2003,1265\n2007,1285\n2015,1291\n2030,1293\n2050,1294\n2070,1293\n2090,1294\n2110,1294\n2130,1293\n2150,1294\n2170,1294\n2190,1293\n2210,1294\n2230,1294\n2250,1293\n2270,1294\n2290,1294\n2310,1293\n2330,1294\n2350,1294\n2370,1293\n2390,1294\n2398,1294\n2400,1294\n2403,1232\n2406,1160\n2409,1095\n2412,1020\n2415,945\n2418,870\n2422,805\n2426,745\n2431,690\n2437,650\n2445,620\n2455,590\n2467,562\n2480,540\n2495,520\n2512,503\n2530,489\n2550,477\n2575,467\n2600,460\n2620,456\n2640,453\n2660,450\n2680,448\n2700,447\n2720,446\n2740,446\n2760,445\n2780,445\n2798,445\n2800,445\n2802,549\n2804,627\n2806,726\n2808,802\n2810,878\n2812,940\n2815,980\n2819,1003\n2825,1015\n2835,1020\n2850,1023\n2870,1024\n2890,1024\n2910,1025\n2930,1024\n2950,1025\n2970,1024\n2990,1025\n3010,1024\n3030,1025\n3050,1024\n3070,1025\n3090,1024\n3110,1025\n3130,1024\n3150,1025\n3170,1024\n3198,1024\n3200,1024\n3203,978\n3206,940\n3209,900\n3213,852\n3217,802\n3222,751\n3230,710\n3240,680\n3255,660\n3275,650\n3300,645\n3320,643\n3340,642\n3360,641\n3380,640\n3400,640\n3420,639\n3440,639\n3460,638\n3480,638\n3500,638\n3520,637\n3540,637\n3560,637\n3580,636\n3598,636\n3600,637\n3602,802\n3604,940\n3606,1042\n3608,1105\n3611,1130\n3616,1142\n3625,1147\n3640,1149\n3660,1150\n3680,1149\n3700,1150\n3720,1151\n3740,1150\n3760,1151\n3780,1150\n3800,1151\n3820,1151\n3840,1150\n3860,1151\n3880,1152\n3900,1151\n3920,1152\n3940,1151\n3960,1152\n3980,1152\n4000,1152", "format": {"type": "csv", "parse": {"x": "number", "y": "number"}}},
    "mark": {"type": "line", "color": "red", "strokeWidth": 1, "point": {"shape": "diamond", "filled": false, "size": 30, "strokeWidth": 1, "color": "red", "opacity": 1}},
    "encoding": {
     "x": {"field": "x", "type": "quantitative", "scale": {"domain": [0, 4000], "nice": false}, "axis": {"orient": "bottom", "values": [0,500,1000,1500,2000,2500,3000,3500,4000], "format": "d", "labelExpr": "datum.value % 1000 == 0 ? datum.label : ''", "labelFontSize": 20, "labelPadding": 13, "title": "Pulse numbers", "titleFontSize": 26, "titleX": 220, "titleY": 55, "titleAlign": "center", "titleBaseline": "alphabetic"}},
     "y": {"field": "y", "type": "quantitative", "scale": {"domain": [400, 1400], "nice": false, "zero": false}, "axis": {"orient": "left", "values": [400,600,800,1000,1200,1400], "format": "d", "labelExpr": "datum.value % 400 == 0 ? datum.label : ''", "title": null}}
    }},
   {"data": {"name": "txt"}, "transform": [{"filter": "datum.p=='d'"}],
    "mark": {"type": "text", "align": "left", "baseline": "middle", "fontSize": 20, "color": "black"},
    "encoding": {"x": {"field": "x", "type": "quantitative", "scale": {"domain": [0, 4000], "nice": false}, "axis": {"orient": "top", "values": [0,500,1000,1500,2000,2500,3000,3500,4000], "labels": false, "title": null}}, "y": {"field": "y", "type": "quantitative", "scale": {"domain": [400, 1400], "nice": false, "zero": false}, "axis": {"orient": "right", "values": [400,600,800,1000,1200,1400], "labels": false, "title": null}}, "text": {"field": "t"}}},
   {"data": {"name": "sub"}, "transform": [{"filter": "datum.p=='d'"}],
    "mark": {"type": "text", "align": "left", "baseline": "middle", "fontSize": 13, "dy": 7, "color": "black"},
    "encoding": {"x": {"field": "x", "type": "quantitative", "scale": {"domain": [0, 4000], "nice": false}, "axis": null}, "y": {"field": "y", "type": "quantitative", "scale": {"domain": [400, 1400], "nice": false, "zero": false}, "axis": null}, "text": {"field": "t"}}},
   {"data": {"name": "arr"}, "transform": [{"filter": "datum.p=='d'"}],
    "mark": {"type": "rule", "color": "black", "strokeWidth": 1.5},
    "encoding": {"x": {"field": "x", "type": "quantitative", "scale": {"domain": [0, 4000], "nice": false}, "axis": null}, "y": {"field": "from", "type": "quantitative", "scale": {"domain": [400, 1400], "nice": false, "zero": false}, "axis": null}, "y2": {"field": "to"}}},
   {"data": {"name": "arr"}, "transform": [{"filter": "datum.p=='d'"}],
    "mark": {"type": "point", "filled": true, "color": "black", "size": 400, "opacity": 1},
    "encoding": {"x": {"field": "x", "type": "quantitative", "scale": {"domain": [0, 4000], "nice": false}, "axis": null}, "y": {"field": "to", "type": "quantitative", "scale": {"domain": [400, 1400], "nice": false, "zero": false}, "axis": null},
     "shape": {"condition": {"test": "datum.to < datum.from", "value": "M0,0L-0.3,-1.3L0.3,-1.3Z"}, "value": "M0,0L-0.3,1.3L0.3,1.3Z"}}}
  ]
 }
]
}
